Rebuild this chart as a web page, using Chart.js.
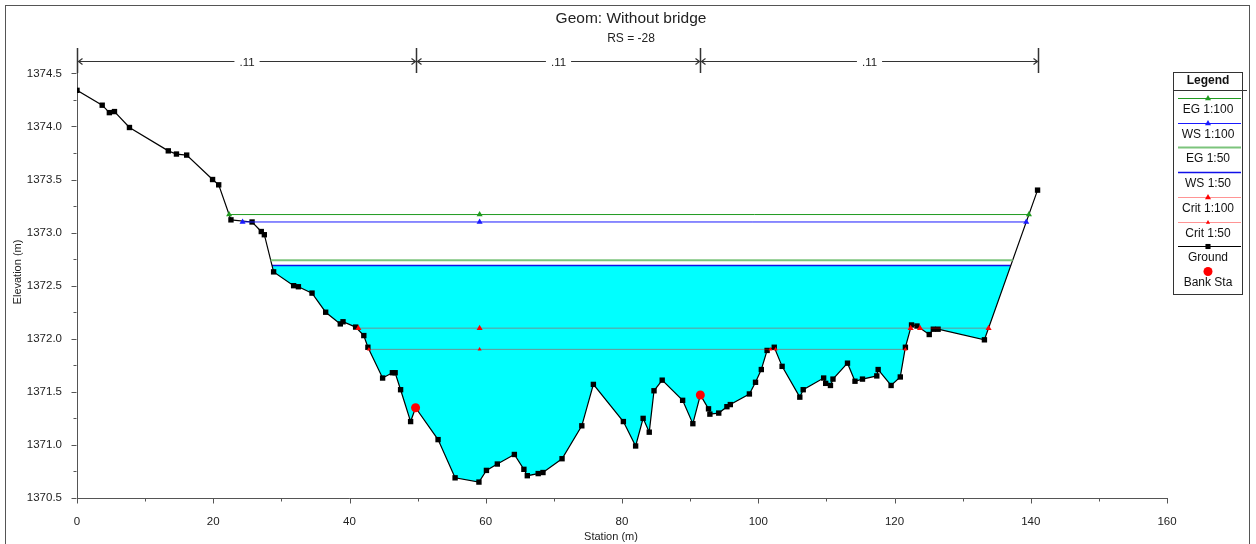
<!DOCTYPE html>
<html>
<head>
<meta charset="utf-8">
<script src="https://cdn.jsdelivr.net/npm/chart.js@4.4.1/dist/chart.umd.min.js"></script>
<style>
  html, body { margin: 0; background: #fff; }
  #wrap { position: relative; width: 1256px; height: 544px; }
</style>
</head>
<body>
<div id="wrap"><canvas id="c" width="1256" height="544"></canvas></div>
<script>
/* ═══════════════════════════════════════════
   DATA
═══════════════════════════════════════════ */
const groundSta = [0, 3.7, 4.75, 5.5, 7.7, 13.4, 14.6, 16.1, 19.9, 20.8, 22.6, 25.7, 27.05, 27.5,
  28.86, 31.8, 32.5, 34.5, 36.5, 38.65, 39.05, 40.9, 42.1, 42.7, 44.86, 46.3, 46.7, 47.5, 48.97,
  49.7, 53.0, 55.5, 59.0, 60.1, 61.7, 64.2, 65.6, 66.1, 67.7, 68.4, 71.2, 74.1, 75.8, 80.2, 82.0,
  83.1, 84.0, 84.7, 85.9, 88.9, 90.4, 91.5, 92.7, 92.9, 94.2, 95.4, 95.9, 98.7, 99.6, 100.45,
  101.3, 102.35, 103.5, 106.1, 106.6, 109.6, 109.9, 110.6, 110.97, 113.1, 114.2, 115.3, 117.4,
  117.6, 119.5, 120.85, 121.6, 122.5, 123.3, 125.1, 125.7, 126.4, 133.2, 141.0];
const groundElev = [1374.34, 1374.20, 1374.13, 1374.14, 1373.99, 1373.77, 1373.74, 1373.73, 1373.50,
  1373.45, 1373.12, 1373.10, 1373.01, 1372.98, 1372.63, 1372.50, 1372.49, 1372.43, 1372.25, 1372.14,
  1372.16, 1372.11, 1372.03, 1371.92, 1371.63, 1371.68, 1371.68, 1371.52, 1371.22, 1371.35, 1371.05,
  1370.69, 1370.65, 1370.76, 1370.82, 1370.91, 1370.77, 1370.71, 1370.73, 1370.74, 1370.87, 1371.18,
  1371.57, 1371.22, 1370.99, 1371.25, 1371.12, 1371.51, 1371.61, 1371.42, 1371.20, 1371.47, 1371.34,
  1371.29, 1371.30, 1371.36, 1371.38, 1371.48, 1371.59, 1371.71, 1371.89, 1371.92, 1371.74, 1371.45,
  1371.52, 1371.63, 1371.58, 1371.56, 1371.62, 1371.77, 1371.60, 1371.62, 1371.65, 1371.71, 1371.56,
  1371.64, 1371.92, 1372.13, 1372.12, 1372.04, 1372.09, 1372.09, 1371.99, 1373.40];

const bankSta = [49.7, 91.5];
const bankElev = [1371.35, 1371.47];

const eg100Sta = [22.33, 59.1, 139.73];
const eg100Elev = [1373.17, 1373.17, 1373.17];
const ws100Sta = [24.3, 59.1, 139.34];
const ws100Elev = [1373.10, 1373.10, 1373.10];
const eg50Sta = [28.43, 137.35];
const eg50Elev = [1372.74, 1372.74];
const ws50Sta = [28.63, 137.07];
const ws50Elev = [1372.69, 1372.69];
const crit100Sta = [41.3, 59.1, 122.37, 123.0, 123.75, 133.81];
const crit100Elev = [1372.10, 1372.10, 1372.10, null, 1372.10, 1372.10];
const crit50Sta = [42.85, 59.1, 101.8, 102.2, 102.55, 121.6];
const crit50Elev = [1371.90, 1371.90, 1371.90, null, 1371.90, 1371.90];

// Manning's n regions (top arrows)
const nBreaks = [0, 49.7, 91.5, 141.0];
const nValues = ['.11', '.11', '.11'];

const xTicks = [0, 20, 40, 60, 80, 100, 120, 140, 160];
const yTicks = [1370.5, 1371.0, 1371.5, 1372.0, 1372.5, 1373.0, 1373.5, 1374.0, 1374.5];
const yTop = 1374.72;

const titleText = 'Geom: Without bridge';
const subText = 'RS = -28';

/* ═══════════════════════════════════════════
   HELPERS
═══════════════════════════════════════════ */
const FONT = '"Liberation Sans", Arial, sans-serif';
const AXIS = '#555';
const TXT = '#222';

function pts(xs, ys) { return xs.map((x, i) => ({ x, y: ys[i] })); }
function radii(ys, r) { return ys.map(y => (y === null ? 0 : r)); }

/* ═══════════════════════════════════════════
   DECOR PLUGIN: frame, titles, ticks, n arrows, legend
═══════════════════════════════════════════ */
const decor = {
  id: 'decor',
  afterDraw(chart) {
    const ctx = chart.ctx;
    const xs = chart.scales.x, ys = chart.scales.y;
    const area = chart.chartArea;
    ctx.save();

    // outer frame
    ctx.strokeStyle = AXIS; ctx.lineWidth = 1;
    ctx.strokeRect(5.5, 5.5, 1244, 545);

    // titles
    ctx.fillStyle = TXT; ctx.textAlign = 'center'; ctx.textBaseline = 'middle';
    ctx.font = `15.5px ${FONT}`;
    ctx.fillText(titleText, 631, 19);
    ctx.font = `12px ${FONT}`;
    ctx.fillText(subText, 631, 39);

    // axis titles
    ctx.font = `11px ${FONT}`;
    ctx.fillText('Station (m)', 611, 537);
    ctx.save();
    ctx.translate(18, 272); ctx.rotate(-Math.PI / 2);
    ctx.fillText('Elevation (m)', 0, 0);
    ctx.restore();

    // tick marks (major + minor)
    ctx.strokeStyle = AXIS; ctx.beginPath();
    const by = Math.round(area.bottom) + 0.5, lx = Math.round(area.left) - 0.5;
    for (let i = 0; i < xTicks.length; i++) {
      const px = Math.round(xs.getPixelForValue(xTicks[i])) + 0.5;
      ctx.moveTo(px, by); ctx.lineTo(px, by + 5);
      if (i < xTicks.length - 1) {
        const mx = Math.round(xs.getPixelForValue((xTicks[i] + xTicks[i + 1]) / 2)) + 0.5;
        ctx.moveTo(mx, by); ctx.lineTo(mx, by + 3);
      }
    }
    for (let i = 0; i < yTicks.length; i++) {
      const py = Math.round(ys.getPixelForValue(yTicks[i])) + 0.5;
      ctx.moveTo(lx, py); ctx.lineTo(lx - 5, py);
      if (i < yTicks.length - 1) {
        const my = Math.round(ys.getPixelForValue((yTicks[i] + yTicks[i + 1]) / 2)) + 0.5;
        ctx.moveTo(lx, my); ctx.lineTo(lx - 3, my);
      }
    }
    ctx.stroke();

    // Manning's n arrows
    const ay = 61.5;
    ctx.strokeStyle = '#333'; ctx.fillStyle = TXT;
    ctx.font = `11.5px ${FONT}`;
    const bx = nBreaks.map(v => Math.round(xs.getPixelForValue(v)) + 0.5);
    ctx.lineWidth = 1.5;
    ctx.beginPath();
    bx.forEach(x => { ctx.moveTo(x, 48); ctx.lineTo(x, 73); });
    ctx.stroke();
    ctx.lineWidth = 1.2;
    for (let i = 0; i < nValues.length; i++) {
      const a = bx[i], b = bx[i + 1], c = (a + b) / 2;
      const half = ctx.measureText(nValues[i]).width / 2 + 5;
      ctx.beginPath();
      ctx.moveTo(a, ay); ctx.lineTo(c - half, ay);
      ctx.moveTo(c + half, ay); ctx.lineTo(b, ay);
      // arrow heads
      ctx.moveTo(a + 5, ay - 3); ctx.lineTo(a + 1, ay); ctx.lineTo(a + 5, ay + 3);
      ctx.moveTo(b - 5, ay - 3); ctx.lineTo(b - 1, ay); ctx.lineTo(b - 5, ay + 3);
      ctx.stroke();
      ctx.fillText(nValues[i], c, ay + 1);
    }

    // legend
    const L = { x: 1173.5, y: 72.5, w: 69, h: 222 };
    ctx.strokeStyle = '#333'; ctx.lineWidth = 1;
    ctx.strokeRect(L.x, L.y, L.w, L.h);
    ctx.beginPath(); ctx.moveTo(L.x, 90.5); ctx.lineTo(1247, 90.5); ctx.stroke();
    ctx.font = `bold 12px ${FONT}`; ctx.fillStyle = '#111';
    ctx.fillText('Legend', L.x + L.w / 2, 81);
    ctx.font = `12px ${FONT}`;
    const cx = L.x + L.w / 2;
    chart.data.datasets.forEach((ds, i) => {
      const ly = Math.round(98 + i * 24.7) + 0.5;
      if (ds.showLine !== false) {
        ctx.strokeStyle = ds.borderColor; ctx.lineWidth = ds.borderWidth;
        ctx.beginPath(); ctx.moveTo(1178, ly); ctx.lineTo(1241, ly); ctx.stroke();
      }
      if (ds.legendMarker) {
        ctx.fillStyle = ds.pointBackgroundColor; ctx.strokeStyle = ds.pointBackgroundColor;
        Chart.helpers.drawPoint(ctx, { pointStyle: ds.pointStyle, radius: ds.legendMarker, borderWidth: 0, rotation: 0 }, cx, ly);
      }
      ctx.fillStyle = '#111';
      ctx.fillText(ds.label, cx, ly + 11.5);
    });

    ctx.restore();
  }
};

/* ═══════════════════════════════════════════
   CHART
═══════════════════════════════════════════ */
const datasets = [
  { label: 'EG 1:100', data: pts(eg100Sta, eg100Elev), borderColor: '#1f9a1f', borderWidth: 1,
    pointStyle: 'triangle', pointRadius: 3.5, pointBackgroundColor: '#1f9a1f', pointBorderWidth: 0, legendMarker: 3.5 },
  { label: 'WS 1:100', data: pts(ws100Sta, ws100Elev), borderColor: '#1a1aff', borderWidth: 1,
    pointStyle: 'triangle', pointRadius: 3.5, pointBackgroundColor: '#1a1aff', pointBorderWidth: 0, legendMarker: 3.5 },
  { label: 'EG 1:50', data: pts(eg50Sta, eg50Elev), borderColor: '#7cc47c', borderWidth: 2, pointRadius: 0 },
  { label: 'WS 1:50', data: pts(ws50Sta, ws50Elev), borderColor: '#1010e8', borderWidth: 1.5, pointRadius: 0,
    backgroundColor: '#00ffff', fill: { target: 6 }, order: 1 },
  { label: 'Crit 1:100', data: pts(crit100Sta, crit100Elev), borderColor: 'rgba(255,0,0,0.42)', borderWidth: 1,
    pointStyle: 'triangle', pointRadius: radii(crit100Elev, 3.5), pointBackgroundColor: '#ff0000', pointBorderWidth: 0, legendMarker: 3.5 },
  { label: 'Crit 1:50', data: pts(crit50Sta, crit50Elev), borderColor: 'rgba(255,0,0,0.42)', borderWidth: 1,
    pointStyle: 'triangle', pointRadius: radii(crit50Elev, 2.4), pointBackgroundColor: '#ff0000', pointBorderWidth: 0, legendMarker: 2.4 },
  { label: 'Ground', data: pts(groundSta, groundElev), borderColor: '#000', borderWidth: 1.2,
    pointStyle: 'rect', pointRadius: 3.8, pointBackgroundColor: '#000', pointBorderWidth: 0, legendMarker: 3.6 },
  { label: 'Bank Sta', data: pts(bankSta, bankElev), showLine: false, borderColor: '#ff0000',
    pointStyle: 'circle', pointRadius: 4.5, pointBackgroundColor: '#ff0000', pointBorderWidth: 0, legendMarker: 4.5, order: -1 }
];
datasets.forEach(d => { d.tension = 0; if (d.fill === undefined) d.fill = false; });

new Chart(document.getElementById('c'), {
  type: 'line',
  data: { datasets },
  plugins: [decor],
  options: {
    responsive: false,
    animation: false,
    layout: { padding: { left: 0, right: 89, top: 50, bottom: 0 } },
    plugins: { legend: { display: false }, tooltip: { enabled: false } },
    scales: {
      x: {
        type: 'linear', min: 0, max: 160,
        afterBuildTicks: s => { s.ticks = xTicks.map(v => ({ value: v })); },
        afterFit: s => { s.height = 46; },
        ticks: { color: TXT, font: { family: FONT, size: 11.5 }, padding: 9, maxRotation: 0, autoSkip: false },
        grid: { display: false },
        border: { display: true, color: AXIS, width: 1 }
      },
      y: {
        type: 'linear', min: 1370.5, max: yTop,
        afterBuildTicks: s => { s.ticks = yTicks.map(v => ({ value: v })); },
        afterFit: s => { s.width = 77; },
        ticks: { color: TXT, font: { family: FONT, size: 11.5 }, padding: 7, callback: v => v.toFixed(1) },
        grid: { display: false },
        border: { display: true, color: AXIS, width: 1 }
      }
    }
  }
});
</script>
</body>
</html>
